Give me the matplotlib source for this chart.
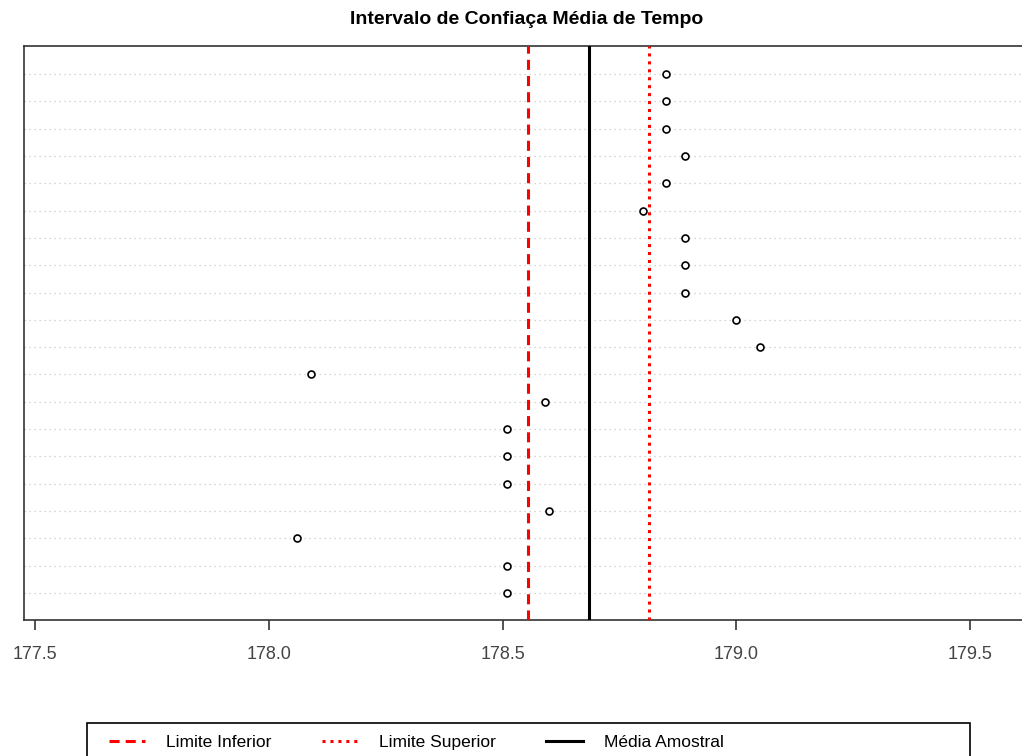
import numpy as np
import matplotlib.pyplot as plt
from matplotlib.lines import Line2D
from matplotlib.patches import Rectangle

plt.rcParams['font.family'] = ['Liberation Sans', 'DejaVu Sans']

# media de tempo de cada amostra, de cima para baixo
medias = [178.85, 178.85, 178.85, 178.89, 178.85, 178.80, 178.89, 178.89, 178.89, 179.00,
          179.05, 178.09, 178.59, 178.51, 178.51, 178.51, 178.60, 178.06, 178.51, 178.51]
lim_inf = 178.555
lim_sup = 178.813
xticks = [177.5, 178.0, 178.5, 179.0, 179.5]
media_amostral = np.mean(medias)

fig = plt.figure(figsize=(10.22, 7.56), dpi=100)
ax = fig.add_axes([24/1022, 1-620/756, (1040-24)/1022, (620-45.6)/756])

y = np.arange(len(medias), 0, -1)
for yy in y:
    ax.axhline(yy, color='#c8c8c8', lw=0.9, ls=(0, (1, 3)), zorder=1)

ax.plot(medias, y, 'o', ls='none', mfc='white', mec='black', ms=5, mew=1.2, zorder=4)

ax.axvline(lim_inf, color='red', lw=2.2, ls=(0, (3.3, 2)), zorder=3)
ax.axvline(lim_sup, color='red', lw=2.2, ls=(0, (1, 1.6)), zorder=3)
ax.axvline(media_amostral, color='black', lw=2.2, zorder=3)

ax.set_xlim(177.476, 179.65)
ax.set_ylim(0.01, 21.04)
ax.set_xticks(xticks)
ax.set_xticklabels(['%.1f' % t for t in xticks])
ax.set_yticks([])
ax.tick_params(axis='x', direction='out', length=7, width=1.2, color='#333333',
               labelcolor='#444444', labelsize=13, pad=12)
for s in ['left', 'top', 'bottom']:
    ax.spines[s].set_color('#333333')
    ax.spines[s].set_linewidth(1.2)
ax.spines['right'].set_visible(False)

fig.text(527/1022, 1-20/756, 'Intervalo de Confiaça Média de Tempo',
         ha='center', va='center', fontsize=14, fontweight='bold')

# legenda
fig.patches.append(Rectangle((87/1022, -0.02), (970-87)/1022, (756-723)/756 + 0.02,
                             transform=fig.transFigure, fill=False, ec='black', lw=1.2))
handles = [Line2D([], [], color='red', lw=2.2, ls=(0, (3.3, 2))),
           Line2D([], [], color='red', lw=2.2, ls=(0, (1, 1.6))),
           Line2D([], [], color='black', lw=2.2)]
labels = ['Limite Inferior', 'Limite Superior', 'Média Amostral']
fig.legend(handles, labels, loc='center left', bbox_to_anchor=(100/1022, 1-742/756),
           ncol=3, frameon=False, fontsize=12.5, borderpad=0, handlelength=2.1,
           handletextpad=1.2, columnspacing=2.9)

fig.savefig('out.png', dpi=100)
